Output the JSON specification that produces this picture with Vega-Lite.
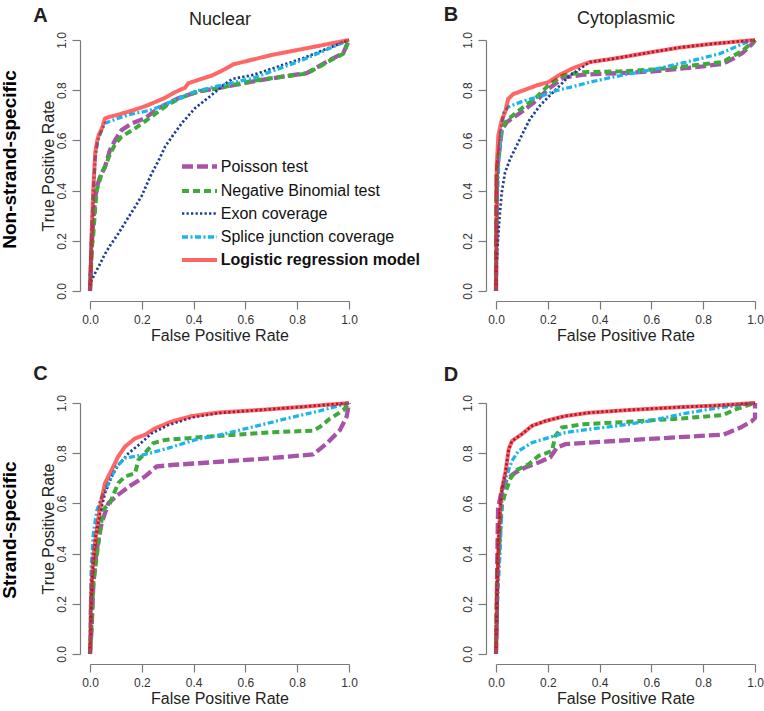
{
"$schema": "https://vega.github.io/schema/vega-lite/v6.json",
"padding": {"left": 0, "top": 4, "right": 0, "bottom": 0},
"config": {
  "font": "Liberation Sans",
  "view": {"stroke": null},
  "axis": {"grid": false, "domainColor": "#7a7a7a", "tickColor": "#7a7a7a", "domainWidth": 1.2, "tickWidth": 1.2, "tickSize": 8, "labelFontSize": 12, "labelColor": "#333333", "titleFontSize": 16, "titleFontWeight": "normal", "titleColor": "#231f20", "labelFlush": false}
},
"datasets": {
"A": [
{"method":"Poisson test","fpr":0,"tpr":0},{"method":"Poisson test","fpr":0.003,"tpr":0.08},{"method":"Poisson test","fpr":0.006,"tpr":0.175},{"method":"Poisson test","fpr":0.012,"tpr":0.27},{"method":"Poisson test","fpr":0.019,"tpr":0.361},{"method":"Poisson test","fpr":0.028,"tpr":0.42},{"method":"Poisson test","fpr":0.039,"tpr":0.455},{"method":"Poisson test","fpr":0.058,"tpr":0.495},{"method":"Poisson test","fpr":0.077,"tpr":0.561},{"method":"Poisson test","fpr":0.097,"tpr":0.601},{"method":"Poisson test","fpr":0.122,"tpr":0.641},{"method":"Poisson test","fpr":0.161,"tpr":0.668},{"method":"Poisson test","fpr":0.212,"tpr":0.688},{"method":"Poisson test","fpr":0.264,"tpr":0.728},{"method":"Poisson test","fpr":0.341,"tpr":0.768},{"method":"Poisson test","fpr":0.418,"tpr":0.795},{"method":"Poisson test","fpr":0.495,"tpr":0.808},{"method":"Poisson test","fpr":0.63,"tpr":0.835},{"method":"Poisson test","fpr":0.75,"tpr":0.855},{"method":"Poisson test","fpr":0.837,"tpr":0.868},{"method":"Poisson test","fpr":0.927,"tpr":0.921},{"method":"Poisson test","fpr":0.978,"tpr":0.948},{"method":"Poisson test","fpr":1,"tpr":1},
{"method":"Negative Binomial test","fpr":0,"tpr":0},{"method":"Negative Binomial test","fpr":0.004,"tpr":0.1},{"method":"Negative Binomial test","fpr":0.008,"tpr":0.18},{"method":"Negative Binomial test","fpr":0.013,"tpr":0.228},{"method":"Negative Binomial test","fpr":0.02,"tpr":0.33},{"method":"Negative Binomial test","fpr":0.026,"tpr":0.401},{"method":"Negative Binomial test","fpr":0.045,"tpr":0.468},{"method":"Negative Binomial test","fpr":0.06,"tpr":0.5},{"method":"Negative Binomial test","fpr":0.077,"tpr":0.545},{"method":"Negative Binomial test","fpr":0.097,"tpr":0.585},{"method":"Negative Binomial test","fpr":0.122,"tpr":0.615},{"method":"Negative Binomial test","fpr":0.174,"tpr":0.648},{"method":"Negative Binomial test","fpr":0.238,"tpr":0.695},{"method":"Negative Binomial test","fpr":0.3,"tpr":0.742},{"method":"Negative Binomial test","fpr":0.35,"tpr":0.77},{"method":"Negative Binomial test","fpr":0.418,"tpr":0.795},{"method":"Negative Binomial test","fpr":0.495,"tpr":0.808},{"method":"Negative Binomial test","fpr":0.63,"tpr":0.838},{"method":"Negative Binomial test","fpr":0.75,"tpr":0.855},{"method":"Negative Binomial test","fpr":0.837,"tpr":0.866},{"method":"Negative Binomial test","fpr":0.927,"tpr":0.918},{"method":"Negative Binomial test","fpr":0.978,"tpr":0.945},{"method":"Negative Binomial test","fpr":1,"tpr":1},
{"method":"Exon coverage","fpr":0,"tpr":0},{"method":"Exon coverage","fpr":0.005,"tpr":0.04},{"method":"Exon coverage","fpr":0.019,"tpr":0.07},{"method":"Exon coverage","fpr":0.035,"tpr":0.1},{"method":"Exon coverage","fpr":0.058,"tpr":0.148},{"method":"Exon coverage","fpr":0.08,"tpr":0.185},{"method":"Exon coverage","fpr":0.109,"tpr":0.228},{"method":"Exon coverage","fpr":0.14,"tpr":0.28},{"method":"Exon coverage","fpr":0.174,"tpr":0.335},{"method":"Exon coverage","fpr":0.2,"tpr":0.38},{"method":"Exon coverage","fpr":0.238,"tpr":0.468},{"method":"Exon coverage","fpr":0.265,"tpr":0.52},{"method":"Exon coverage","fpr":0.29,"tpr":0.575},{"method":"Exon coverage","fpr":0.32,"tpr":0.62},{"method":"Exon coverage","fpr":0.354,"tpr":0.668},{"method":"Exon coverage","fpr":0.405,"tpr":0.728},{"method":"Exon coverage","fpr":0.47,"tpr":0.781},{"method":"Exon coverage","fpr":0.515,"tpr":0.821},{"method":"Exon coverage","fpr":0.55,"tpr":0.845},{"method":"Exon coverage","fpr":0.63,"tpr":0.861},{"method":"Exon coverage","fpr":0.824,"tpr":0.928},{"method":"Exon coverage","fpr":1,"tpr":1},
{"method":"Splice junction coverage","fpr":0,"tpr":0},{"method":"Splice junction coverage","fpr":0.005,"tpr":0.2},{"method":"Splice junction coverage","fpr":0.013,"tpr":0.4},{"method":"Splice junction coverage","fpr":0.02,"tpr":0.53},{"method":"Splice junction coverage","fpr":0.03,"tpr":0.6},{"method":"Splice junction coverage","fpr":0.045,"tpr":0.64},{"method":"Splice junction coverage","fpr":0.058,"tpr":0.668},{"method":"Splice junction coverage","fpr":0.1,"tpr":0.685},{"method":"Splice junction coverage","fpr":0.15,"tpr":0.702},{"method":"Splice junction coverage","fpr":0.24,"tpr":0.722},{"method":"Splice junction coverage","fpr":0.315,"tpr":0.755},{"method":"Splice junction coverage","fpr":0.405,"tpr":0.795},{"method":"Splice junction coverage","fpr":0.5,"tpr":0.818},{"method":"Splice junction coverage","fpr":0.63,"tpr":0.848},{"method":"Splice junction coverage","fpr":0.82,"tpr":0.92},{"method":"Splice junction coverage","fpr":1,"tpr":1},
{"method":"Logistic regression model","fpr":0,"tpr":0},{"method":"Logistic regression model","fpr":0.003,"tpr":0.1},{"method":"Logistic regression model","fpr":0.006,"tpr":0.22},{"method":"Logistic regression model","fpr":0.013,"tpr":0.41},{"method":"Logistic regression model","fpr":0.02,"tpr":0.55},{"method":"Logistic regression model","fpr":0.028,"tpr":0.6},{"method":"Logistic regression model","fpr":0.035,"tpr":0.625},{"method":"Logistic regression model","fpr":0.045,"tpr":0.645},{"method":"Logistic regression model","fpr":0.058,"tpr":0.688},{"method":"Logistic regression model","fpr":0.08,"tpr":0.695},{"method":"Logistic regression model","fpr":0.11,"tpr":0.703},{"method":"Logistic regression model","fpr":0.16,"tpr":0.718},{"method":"Logistic regression model","fpr":0.21,"tpr":0.735},{"method":"Logistic regression model","fpr":0.25,"tpr":0.752},{"method":"Logistic regression model","fpr":0.29,"tpr":0.77},{"method":"Logistic regression model","fpr":0.33,"tpr":0.793},{"method":"Logistic regression model","fpr":0.367,"tpr":0.81},{"method":"Logistic regression model","fpr":0.38,"tpr":0.828},{"method":"Logistic regression model","fpr":0.43,"tpr":0.845},{"method":"Logistic regression model","fpr":0.47,"tpr":0.858},{"method":"Logistic regression model","fpr":0.51,"tpr":0.878},{"method":"Logistic regression model","fpr":0.553,"tpr":0.903},{"method":"Logistic regression model","fpr":0.7,"tpr":0.94},{"method":"Logistic regression model","fpr":0.85,"tpr":0.97},{"method":"Logistic regression model","fpr":1,"tpr":1}
],
"B": [
{"method":"Poisson test","fpr":0,"tpr":0},{"method":"Poisson test","fpr":0.001,"tpr":0.2},{"method":"Poisson test","fpr":0.002,"tpr":0.38},{"method":"Poisson test","fpr":0.003,"tpr":0.47},{"method":"Poisson test","fpr":0.013,"tpr":0.56},{"method":"Poisson test","fpr":0.022,"tpr":0.64},{"method":"Poisson test","fpr":0.041,"tpr":0.672},{"method":"Poisson test","fpr":0.08,"tpr":0.7},{"method":"Poisson test","fpr":0.105,"tpr":0.718},{"method":"Poisson test","fpr":0.157,"tpr":0.76},{"method":"Poisson test","fpr":0.202,"tpr":0.805},{"method":"Poisson test","fpr":0.26,"tpr":0.85},{"method":"Poisson test","fpr":0.337,"tpr":0.862},{"method":"Poisson test","fpr":0.478,"tpr":0.868},{"method":"Poisson test","fpr":0.606,"tpr":0.875},{"method":"Poisson test","fpr":0.799,"tpr":0.895},{"method":"Poisson test","fpr":0.876,"tpr":0.905},{"method":"Poisson test","fpr":0.914,"tpr":0.925},{"method":"Poisson test","fpr":0.953,"tpr":0.95},{"method":"Poisson test","fpr":0.99,"tpr":0.985},{"method":"Poisson test","fpr":1,"tpr":1},
{"method":"Negative Binomial test","fpr":0,"tpr":0},{"method":"Negative Binomial test","fpr":0.001,"tpr":0.2},{"method":"Negative Binomial test","fpr":0.002,"tpr":0.38},{"method":"Negative Binomial test","fpr":0.003,"tpr":0.472},{"method":"Negative Binomial test","fpr":0.013,"tpr":0.565},{"method":"Negative Binomial test","fpr":0.022,"tpr":0.645},{"method":"Negative Binomial test","fpr":0.041,"tpr":0.679},{"method":"Negative Binomial test","fpr":0.08,"tpr":0.712},{"method":"Negative Binomial test","fpr":0.105,"tpr":0.732},{"method":"Negative Binomial test","fpr":0.157,"tpr":0.772},{"method":"Negative Binomial test","fpr":0.202,"tpr":0.819},{"method":"Negative Binomial test","fpr":0.26,"tpr":0.859},{"method":"Negative Binomial test","fpr":0.337,"tpr":0.872},{"method":"Negative Binomial test","fpr":0.478,"tpr":0.875},{"method":"Negative Binomial test","fpr":0.606,"tpr":0.882},{"method":"Negative Binomial test","fpr":0.799,"tpr":0.903},{"method":"Negative Binomial test","fpr":0.876,"tpr":0.912},{"method":"Negative Binomial test","fpr":0.914,"tpr":0.935},{"method":"Negative Binomial test","fpr":0.953,"tpr":0.958},{"method":"Negative Binomial test","fpr":1,"tpr":1},
{"method":"Exon coverage","fpr":0,"tpr":0},{"method":"Exon coverage","fpr":0.002,"tpr":0.08},{"method":"Exon coverage","fpr":0.005,"tpr":0.165},{"method":"Exon coverage","fpr":0.013,"tpr":0.285},{"method":"Exon coverage","fpr":0.022,"tpr":0.392},{"method":"Exon coverage","fpr":0.035,"tpr":0.472},{"method":"Exon coverage","fpr":0.054,"tpr":0.525},{"method":"Exon coverage","fpr":0.08,"tpr":0.579},{"method":"Exon coverage","fpr":0.105,"tpr":0.632},{"method":"Exon coverage","fpr":0.131,"tpr":0.685},{"method":"Exon coverage","fpr":0.17,"tpr":0.739},{"method":"Exon coverage","fpr":0.208,"tpr":0.779},{"method":"Exon coverage","fpr":0.247,"tpr":0.819},{"method":"Exon coverage","fpr":0.285,"tpr":0.859},{"method":"Exon coverage","fpr":0.324,"tpr":0.885},{"method":"Exon coverage","fpr":0.362,"tpr":0.912},{"method":"Exon coverage","fpr":0.45,"tpr":0.925},{"method":"Exon coverage","fpr":0.58,"tpr":0.948},{"method":"Exon coverage","fpr":0.709,"tpr":0.97},{"method":"Exon coverage","fpr":0.837,"tpr":0.985},{"method":"Exon coverage","fpr":1,"tpr":1},
{"method":"Splice junction coverage","fpr":0,"tpr":0},{"method":"Splice junction coverage","fpr":0.002,"tpr":0.2},{"method":"Splice junction coverage","fpr":0.005,"tpr":0.36},{"method":"Splice junction coverage","fpr":0.01,"tpr":0.5},{"method":"Splice junction coverage","fpr":0.015,"tpr":0.587},{"method":"Splice junction coverage","fpr":0.022,"tpr":0.66},{"method":"Splice junction coverage","fpr":0.03,"tpr":0.71},{"method":"Splice junction coverage","fpr":0.047,"tpr":0.733},{"method":"Splice junction coverage","fpr":0.105,"tpr":0.757},{"method":"Splice junction coverage","fpr":0.182,"tpr":0.779},{"method":"Splice junction coverage","fpr":0.234,"tpr":0.799},{"method":"Splice junction coverage","fpr":0.3,"tpr":0.815},{"method":"Splice junction coverage","fpr":0.362,"tpr":0.832},{"method":"Splice junction coverage","fpr":0.45,"tpr":0.852},{"method":"Splice junction coverage","fpr":0.52,"tpr":0.866},{"method":"Splice junction coverage","fpr":0.606,"tpr":0.882},{"method":"Splice junction coverage","fpr":0.735,"tpr":0.912},{"method":"Splice junction coverage","fpr":0.863,"tpr":0.945},{"method":"Splice junction coverage","fpr":0.966,"tpr":0.99},{"method":"Splice junction coverage","fpr":1,"tpr":1},
{"method":"Logistic regression model","fpr":0,"tpr":0},{"method":"Logistic regression model","fpr":0.002,"tpr":0.3},{"method":"Logistic regression model","fpr":0.003,"tpr":0.5},{"method":"Logistic regression model","fpr":0.009,"tpr":0.62},{"method":"Logistic regression model","fpr":0.022,"tpr":0.68},{"method":"Logistic regression model","fpr":0.035,"tpr":0.712},{"method":"Logistic regression model","fpr":0.047,"tpr":0.765},{"method":"Logistic regression model","fpr":0.067,"tpr":0.785},{"method":"Logistic regression model","fpr":0.105,"tpr":0.799},{"method":"Logistic regression model","fpr":0.157,"tpr":0.819},{"method":"Logistic regression model","fpr":0.202,"tpr":0.832},{"method":"Logistic regression model","fpr":0.247,"tpr":0.862},{"method":"Logistic regression model","fpr":0.298,"tpr":0.888},{"method":"Logistic regression model","fpr":0.362,"tpr":0.912},{"method":"Logistic regression model","fpr":0.45,"tpr":0.925},{"method":"Logistic regression model","fpr":0.58,"tpr":0.948},{"method":"Logistic regression model","fpr":0.709,"tpr":0.97},{"method":"Logistic regression model","fpr":0.837,"tpr":0.985},{"method":"Logistic regression model","fpr":1,"tpr":1}
],
"C": [
{"method":"Poisson test","fpr":0,"tpr":0},{"method":"Poisson test","fpr":0.003,"tpr":0.05},{"method":"Poisson test","fpr":0.006,"tpr":0.098},{"method":"Poisson test","fpr":0.013,"tpr":0.283},{"method":"Poisson test","fpr":0.026,"tpr":0.415},{"method":"Poisson test","fpr":0.045,"tpr":0.522},{"method":"Poisson test","fpr":0.071,"tpr":0.601},{"method":"Poisson test","fpr":0.109,"tpr":0.635},{"method":"Poisson test","fpr":0.161,"tpr":0.674},{"method":"Poisson test","fpr":0.212,"tpr":0.707},{"method":"Poisson test","fpr":0.257,"tpr":0.747},{"method":"Poisson test","fpr":0.315,"tpr":0.753},{"method":"Poisson test","fpr":0.418,"tpr":0.76},{"method":"Poisson test","fpr":0.515,"tpr":0.767},{"method":"Poisson test","fpr":0.695,"tpr":0.78},{"method":"Poisson test","fpr":0.862,"tpr":0.795},{"method":"Poisson test","fpr":0.914,"tpr":0.839},{"method":"Poisson test","fpr":0.965,"tpr":0.892},{"method":"Poisson test","fpr":0.991,"tpr":0.946},{"method":"Poisson test","fpr":1,"tpr":1},
{"method":"Negative Binomial test","fpr":0,"tpr":0},{"method":"Negative Binomial test","fpr":0.003,"tpr":0.05},{"method":"Negative Binomial test","fpr":0.006,"tpr":0.124},{"method":"Negative Binomial test","fpr":0.013,"tpr":0.283},{"method":"Negative Binomial test","fpr":0.026,"tpr":0.389},{"method":"Negative Binomial test","fpr":0.039,"tpr":0.495},{"method":"Negative Binomial test","fpr":0.051,"tpr":0.575},{"method":"Negative Binomial test","fpr":0.077,"tpr":0.601},{"method":"Negative Binomial test","fpr":0.109,"tpr":0.681},{"method":"Negative Binomial test","fpr":0.135,"tpr":0.707},{"method":"Negative Binomial test","fpr":0.174,"tpr":0.72},{"method":"Negative Binomial test","fpr":0.187,"tpr":0.773},{"method":"Negative Binomial test","fpr":0.212,"tpr":0.8},{"method":"Negative Binomial test","fpr":0.245,"tpr":0.84},{"method":"Negative Binomial test","fpr":0.29,"tpr":0.853},{"method":"Negative Binomial test","fpr":0.405,"tpr":0.862},{"method":"Negative Binomial test","fpr":0.541,"tpr":0.872},{"method":"Negative Binomial test","fpr":0.695,"tpr":0.883},{"method":"Negative Binomial test","fpr":0.862,"tpr":0.89},{"method":"Negative Binomial test","fpr":0.888,"tpr":0.905},{"method":"Negative Binomial test","fpr":0.927,"tpr":0.938},{"method":"Negative Binomial test","fpr":0.978,"tpr":0.971},{"method":"Negative Binomial test","fpr":1,"tpr":1},
{"method":"Exon coverage","fpr":0,"tpr":0},{"method":"Exon coverage","fpr":0.002,"tpr":0.12},{"method":"Exon coverage","fpr":0.006,"tpr":0.283},{"method":"Exon coverage","fpr":0.019,"tpr":0.455},{"method":"Exon coverage","fpr":0.039,"tpr":0.561},{"method":"Exon coverage","fpr":0.058,"tpr":0.641},{"method":"Exon coverage","fpr":0.084,"tpr":0.707},{"method":"Exon coverage","fpr":0.109,"tpr":0.753},{"method":"Exon coverage","fpr":0.148,"tpr":0.799},{"method":"Exon coverage","fpr":0.187,"tpr":0.832},{"method":"Exon coverage","fpr":0.238,"tpr":0.879},{"method":"Exon coverage","fpr":0.302,"tpr":0.912},{"method":"Exon coverage","fpr":0.393,"tpr":0.942},{"method":"Exon coverage","fpr":0.495,"tpr":0.96},{"method":"Exon coverage","fpr":0.681,"tpr":0.974},{"method":"Exon coverage","fpr":0.81,"tpr":0.984},{"method":"Exon coverage","fpr":1,"tpr":1},
{"method":"Splice junction coverage","fpr":0,"tpr":0},{"method":"Splice junction coverage","fpr":0.002,"tpr":0.2},{"method":"Splice junction coverage","fpr":0.005,"tpr":0.35},{"method":"Splice junction coverage","fpr":0.013,"tpr":0.48},{"method":"Splice junction coverage","fpr":0.026,"tpr":0.57},{"method":"Splice junction coverage","fpr":0.045,"tpr":0.625},{"method":"Splice junction coverage","fpr":0.071,"tpr":0.681},{"method":"Splice junction coverage","fpr":0.103,"tpr":0.747},{"method":"Splice junction coverage","fpr":0.135,"tpr":0.78},{"method":"Splice junction coverage","fpr":0.212,"tpr":0.795},{"method":"Splice junction coverage","fpr":0.302,"tpr":0.82},{"method":"Splice junction coverage","fpr":0.405,"tpr":0.853},{"method":"Splice junction coverage","fpr":0.502,"tpr":0.873},{"method":"Splice junction coverage","fpr":0.63,"tpr":0.905},{"method":"Splice junction coverage","fpr":0.759,"tpr":0.938},{"method":"Splice junction coverage","fpr":0.888,"tpr":0.969},{"method":"Splice junction coverage","fpr":1,"tpr":1},
{"method":"Logistic regression model","fpr":0,"tpr":0},{"method":"Logistic regression model","fpr":0.002,"tpr":0.1},{"method":"Logistic regression model","fpr":0.004,"tpr":0.23},{"method":"Logistic regression model","fpr":0.013,"tpr":0.389},{"method":"Logistic regression model","fpr":0.026,"tpr":0.495},{"method":"Logistic regression model","fpr":0.039,"tpr":0.588},{"method":"Logistic regression model","fpr":0.058,"tpr":0.681},{"method":"Logistic regression model","fpr":0.084,"tpr":0.734},{"method":"Logistic regression model","fpr":0.109,"tpr":0.787},{"method":"Logistic regression model","fpr":0.135,"tpr":0.826},{"method":"Logistic regression model","fpr":0.174,"tpr":0.859},{"method":"Logistic regression model","fpr":0.212,"tpr":0.873},{"method":"Logistic regression model","fpr":0.251,"tpr":0.899},{"method":"Logistic regression model","fpr":0.315,"tpr":0.926},{"method":"Logistic regression model","fpr":0.393,"tpr":0.948},{"method":"Logistic regression model","fpr":0.495,"tpr":0.962},{"method":"Logistic regression model","fpr":0.681,"tpr":0.974},{"method":"Logistic regression model","fpr":0.81,"tpr":0.984},{"method":"Logistic regression model","fpr":1,"tpr":1}
],
"D": [
{"method":"Poisson test","fpr":0,"tpr":0},{"method":"Poisson test","fpr":0.002,"tpr":0.1},{"method":"Poisson test","fpr":0.004,"tpr":0.3},{"method":"Poisson test","fpr":0.006,"tpr":0.45},{"method":"Poisson test","fpr":0.008,"tpr":0.58},{"method":"Poisson test","fpr":0.012,"tpr":0.6},{"method":"Poisson test","fpr":0.023,"tpr":0.657},{"method":"Poisson test","fpr":0.042,"tpr":0.697},{"method":"Poisson test","fpr":0.075,"tpr":0.723},{"method":"Poisson test","fpr":0.113,"tpr":0.743},{"method":"Poisson test","fpr":0.164,"tpr":0.763},{"method":"Poisson test","fpr":0.209,"tpr":0.783},{"method":"Poisson test","fpr":0.235,"tpr":0.822},{"method":"Poisson test","fpr":0.267,"tpr":0.836},{"method":"Poisson test","fpr":0.357,"tpr":0.842},{"method":"Poisson test","fpr":0.511,"tpr":0.852},{"method":"Poisson test","fpr":0.775,"tpr":0.868},{"method":"Poisson test","fpr":0.878,"tpr":0.874},{"method":"Poisson test","fpr":0.942,"tpr":0.901},{"method":"Poisson test","fpr":0.987,"tpr":0.927},{"method":"Poisson test","fpr":1,"tpr":0.94},{"method":"Poisson test","fpr":1,"tpr":1},
{"method":"Negative Binomial test","fpr":0,"tpr":0},{"method":"Negative Binomial test","fpr":0.001,"tpr":0.1},{"method":"Negative Binomial test","fpr":0.004,"tpr":0.286},{"method":"Negative Binomial test","fpr":0.01,"tpr":0.392},{"method":"Negative Binomial test","fpr":0.017,"tpr":0.498},{"method":"Negative Binomial test","fpr":0.023,"tpr":0.591},{"method":"Negative Binomial test","fpr":0.036,"tpr":0.644},{"method":"Negative Binomial test","fpr":0.055,"tpr":0.697},{"method":"Negative Binomial test","fpr":0.075,"tpr":0.73},{"method":"Negative Binomial test","fpr":0.126,"tpr":0.756},{"method":"Negative Binomial test","fpr":0.164,"tpr":0.789},{"method":"Negative Binomial test","fpr":0.216,"tpr":0.809},{"method":"Negative Binomial test","fpr":0.229,"tpr":0.869},{"method":"Negative Binomial test","fpr":0.254,"tpr":0.902},{"method":"Negative Binomial test","fpr":0.331,"tpr":0.915},{"method":"Negative Binomial test","fpr":0.511,"tpr":0.925},{"method":"Negative Binomial test","fpr":0.711,"tpr":0.938},{"method":"Negative Binomial test","fpr":0.878,"tpr":0.952},{"method":"Negative Binomial test","fpr":0.917,"tpr":0.972},{"method":"Negative Binomial test","fpr":0.968,"tpr":0.99},{"method":"Negative Binomial test","fpr":1,"tpr":1},
{"method":"Exon coverage","fpr":0,"tpr":0},{"method":"Exon coverage","fpr":0.002,"tpr":0.1},{"method":"Exon coverage","fpr":0.004,"tpr":0.233},{"method":"Exon coverage","fpr":0.01,"tpr":0.458},{"method":"Exon coverage","fpr":0.017,"tpr":0.591},{"method":"Exon coverage","fpr":0.023,"tpr":0.657},{"method":"Exon coverage","fpr":0.036,"tpr":0.723},{"method":"Exon coverage","fpr":0.042,"tpr":0.763},{"method":"Exon coverage","fpr":0.049,"tpr":0.816},{"method":"Exon coverage","fpr":0.062,"tpr":0.849},{"method":"Exon coverage","fpr":0.1,"tpr":0.876},{"method":"Exon coverage","fpr":0.139,"tpr":0.909},{"method":"Exon coverage","fpr":0.19,"tpr":0.928},{"method":"Exon coverage","fpr":0.267,"tpr":0.948},{"method":"Exon coverage","fpr":0.357,"tpr":0.961},{"method":"Exon coverage","fpr":0.511,"tpr":0.972},{"method":"Exon coverage","fpr":0.7,"tpr":0.983},{"method":"Exon coverage","fpr":0.85,"tpr":0.99},{"method":"Exon coverage","fpr":1,"tpr":1},
{"method":"Splice junction coverage","fpr":0,"tpr":0},{"method":"Splice junction coverage","fpr":0.003,"tpr":0.1},{"method":"Splice junction coverage","fpr":0.008,"tpr":0.26},{"method":"Splice junction coverage","fpr":0.017,"tpr":0.432},{"method":"Splice junction coverage","fpr":0.023,"tpr":0.631},{"method":"Splice junction coverage","fpr":0.036,"tpr":0.697},{"method":"Splice junction coverage","fpr":0.062,"tpr":0.77},{"method":"Splice junction coverage","fpr":0.087,"tpr":0.809},{"method":"Splice junction coverage","fpr":0.139,"tpr":0.842},{"method":"Splice junction coverage","fpr":0.203,"tpr":0.862},{"method":"Splice junction coverage","fpr":0.267,"tpr":0.882},{"method":"Splice junction coverage","fpr":0.357,"tpr":0.895},{"method":"Splice junction coverage","fpr":0.511,"tpr":0.915},{"method":"Splice junction coverage","fpr":0.6,"tpr":0.93},{"method":"Splice junction coverage","fpr":0.711,"tpr":0.955},{"method":"Splice junction coverage","fpr":0.84,"tpr":0.978},{"method":"Splice junction coverage","fpr":1,"tpr":1},
{"method":"Logistic regression model","fpr":0,"tpr":0},{"method":"Logistic regression model","fpr":0.002,"tpr":0.1},{"method":"Logistic regression model","fpr":0.004,"tpr":0.233},{"method":"Logistic regression model","fpr":0.01,"tpr":0.458},{"method":"Logistic regression model","fpr":0.017,"tpr":0.591},{"method":"Logistic regression model","fpr":0.023,"tpr":0.657},{"method":"Logistic regression model","fpr":0.036,"tpr":0.723},{"method":"Logistic regression model","fpr":0.042,"tpr":0.763},{"method":"Logistic regression model","fpr":0.049,"tpr":0.816},{"method":"Logistic regression model","fpr":0.062,"tpr":0.849},{"method":"Logistic regression model","fpr":0.1,"tpr":0.876},{"method":"Logistic regression model","fpr":0.139,"tpr":0.909},{"method":"Logistic regression model","fpr":0.19,"tpr":0.928},{"method":"Logistic regression model","fpr":0.267,"tpr":0.948},{"method":"Logistic regression model","fpr":0.357,"tpr":0.961},{"method":"Logistic regression model","fpr":0.511,"tpr":0.972},{"method":"Logistic regression model","fpr":0.7,"tpr":0.983},{"method":"Logistic regression model","fpr":0.85,"tpr":0.99},{"method":"Logistic regression model","fpr":1,"tpr":1}
]
},
"spacing": 20,
"resolve": {"scale": {"color": "independent", "strokeDash": "independent", "strokeWidth": "independent", "opacity": "independent"}, "legend": {"color": "independent", "strokeDash": "independent", "strokeWidth": "independent", "opacity": "independent"}},
"vconcat": [
{
 "title": {"text": "Non-strand-specific", "orient": "left", "anchor": "middle", "fontSize": 19, "fontWeight": "bold", "color": "#000000", "baseline": "alphabetic", "offset": -2, "dx": 14},
 "bounds": "flush", "spacing": 147,
 "resolve": {"scale": {"color": "independent", "strokeDash": "independent", "strokeWidth": "independent", "opacity": "independent"}, "legend": {"color": "independent", "strokeDash": "independent", "strokeWidth": "independent", "opacity": "independent"}},
 "hconcat": [
  {
   "width": 259, "height": 251,
   "data": {"name": "A"},
   "resolve": {"axis": {"x": "independent", "y": "independent"}},
   "layer": [
    {
     "transform": [{"filter": "datum.method !== 'Logistic regression model'"}],
     "mark": {"type": "line", "strokeJoin": "round"},
     "encoding": {
      "x": {"field": "fpr", "type": "quantitative", "scale": {"domain": [0, 1], "nice": false, "zero": false}, "axis": {"title": "False Positive Rate", "values": [0, 0.2, 0.4, 0.6, 0.8, 1], "format": ".1f", "offset": 10, "labelPadding": 5, "titlePadding": 2}},
      "y": {"field": "tpr", "type": "quantitative", "scale": {"domain": [0, 1], "nice": false, "zero": false}, "axis": {"title": "True Positive Rate", "values": [0, 0.2, 0.4, 0.6, 0.8, 1], "format": ".1f", "offset": 10, "labelAngle": -90, "labelAlign": "center", "labelBaseline": "alphabetic", "labelPadding": 7, "titlePadding": -1}},
      "color": {"field": "method", "type": "nominal", "scale": {"domain": ["Poisson test", "Negative Binomial test", "Exon coverage", "Splice junction coverage", "Logistic regression model"], "range": ["#a852a8", "#3daa3a", "#1f3f96", "#1cb4ec", "#ff0000"]},
       "legend": {"title": null, "orient": "none", "legendX": 97, "legendY": 114, "direction": "vertical", "symbolType": "M-1.75,0L1.75,0", "symbolSize": 400, "symbolFillColor": "transparent", "labelFontSize": 16, "labelColor": "#111111", "labelLimit": 400, "labelOffset": 8.75, "rowPadding": 3, "padding": 0, "encode": {"labels": {"update": {"fontWeight": {"signal": "datum.value === 'Logistic regression model' ? 'bold' : 'normal'"}}}}}},
      "strokeDash": {"field": "method", "type": "nominal", "scale": {"domain": ["Poisson test", "Negative Binomial test", "Exon coverage", "Splice junction coverage", "Logistic regression model"], "range": [[11, 4], [7, 4], [2.3, 2.2], [6, 2.5, 2, 2.5], [1, 0]]}},
      "strokeWidth": {"field": "method", "type": "ordinal", "scale": {"type": "ordinal", "domain": ["Poisson test", "Negative Binomial test", "Exon coverage", "Splice junction coverage", "Logistic regression model"], "range": [4.3, 4, 2.7, 3.3, 4]}},
      "opacity": {"field": "method", "type": "ordinal", "scale": {"type": "ordinal", "domain": ["Poisson test", "Negative Binomial test", "Exon coverage", "Splice junction coverage", "Logistic regression model"], "range": [1, 1, 1, 1, 0.6]}},
      "order": [{"field": "fpr", "type": "quantitative"}, {"field": "tpr", "type": "quantitative"}]
     }
    },
    {
     "transform": [{"filter": "datum.method === 'Logistic regression model'"}],
     "mark": {"type": "line", "strokeJoin": "round"},
     "encoding": {
      "x": {"field": "fpr", "type": "quantitative", "scale": {"domain": [0, 1], "nice": false, "zero": false}, "axis": {"orient": "top", "title": "Nuclear", "labels": false, "ticks": false, "domain": false, "grid": false, "titleFontSize": 18, "titleX": 129.5, "titleY": -16, "titleAlign": "center", "titleBaseline": "alphabetic"}},
      "y": {"field": "tpr", "type": "quantitative", "scale": {"domain": [0, 1], "nice": false, "zero": false}, "axis": {"orient": "right", "title": "A", "labels": false, "ticks": false, "domain": false, "grid": false, "titleAngle": 0, "titleFontSize": 20, "titleFontWeight": "bold", "titleX": -309, "titleY": -19, "titleAlign": "center", "titleBaseline": "alphabetic"}},
      "color": {"field": "method", "type": "nominal", "scale": {"domain": ["Poisson test", "Negative Binomial test", "Exon coverage", "Splice junction coverage", "Logistic regression model"], "range": ["#a852a8", "#3daa3a", "#1f3f96", "#1cb4ec", "#ff0000"]}},
      "strokeDash": {"field": "method", "type": "nominal", "scale": {"domain": ["Poisson test", "Negative Binomial test", "Exon coverage", "Splice junction coverage", "Logistic regression model"], "range": [[11, 4], [7, 4], [2.3, 2.2], [6, 2.5, 2, 2.5], [1, 0]]}},
      "strokeWidth": {"field": "method", "type": "ordinal", "scale": {"type": "ordinal", "domain": ["Poisson test", "Negative Binomial test", "Exon coverage", "Splice junction coverage", "Logistic regression model"], "range": [4.3, 4, 2.7, 3.3, 4]}},
      "opacity": {"field": "method", "type": "ordinal", "scale": {"type": "ordinal", "domain": ["Poisson test", "Negative Binomial test", "Exon coverage", "Splice junction coverage", "Logistic regression model"], "range": [1, 1, 1, 1, 0.6]}},
      "order": [{"field": "fpr", "type": "quantitative"}, {"field": "tpr", "type": "quantitative"}]
     }
    }
   ]
  },
  {
   "width": 259, "height": 251,
   "data": {"name": "B"},
   "resolve": {"axis": {"x": "independent", "y": "independent"}},
   "layer": [
    {
     "transform": [{"filter": "datum.method !== 'Logistic regression model'"}],
     "mark": {"type": "line", "strokeJoin": "round"},
     "encoding": {
      "x": {"field": "fpr", "type": "quantitative", "scale": {"domain": [0, 1], "nice": false, "zero": false}, "axis": {"title": "False Positive Rate", "values": [0, 0.2, 0.4, 0.6, 0.8, 1], "format": ".1f", "offset": 10, "labelPadding": 5, "titlePadding": 2}},
      "y": {"field": "tpr", "type": "quantitative", "scale": {"domain": [0, 1], "nice": false, "zero": false}, "axis": {"title": null, "values": [0, 0.2, 0.4, 0.6, 0.8, 1], "format": ".1f", "offset": 10, "labelAngle": -90, "labelAlign": "center", "labelBaseline": "alphabetic", "labelPadding": 7}},
      "color": {"field": "method", "type": "nominal", "scale": {"domain": ["Poisson test", "Negative Binomial test", "Exon coverage", "Splice junction coverage", "Logistic regression model"], "range": ["#a852a8", "#3daa3a", "#1f3f96", "#1cb4ec", "#ff0000"]}, "legend": null},
      "strokeDash": {"field": "method", "type": "nominal", "scale": {"domain": ["Poisson test", "Negative Binomial test", "Exon coverage", "Splice junction coverage", "Logistic regression model"], "range": [[11, 4], [7, 4], [2.3, 2.2], [6, 2.5, 2, 2.5], [1, 0]]}, "legend": null},
      "strokeWidth": {"field": "method", "type": "ordinal", "scale": {"type": "ordinal", "domain": ["Poisson test", "Negative Binomial test", "Exon coverage", "Splice junction coverage", "Logistic regression model"], "range": [4.3, 4, 2.7, 3.3, 4]}, "legend": null},
      "opacity": {"field": "method", "type": "ordinal", "scale": {"type": "ordinal", "domain": ["Poisson test", "Negative Binomial test", "Exon coverage", "Splice junction coverage", "Logistic regression model"], "range": [1, 1, 1, 1, 0.6]}, "legend": null},
      "order": [{"field": "fpr", "type": "quantitative"}, {"field": "tpr", "type": "quantitative"}]
     }
    },
    {
     "transform": [{"filter": "datum.method === 'Logistic regression model'"}],
     "mark": {"type": "line", "strokeJoin": "round"},
     "encoding": {
      "x": {"field": "fpr", "type": "quantitative", "scale": {"domain": [0, 1], "nice": false, "zero": false}, "axis": {"orient": "top", "title": "Cytoplasmic", "labels": false, "ticks": false, "domain": false, "grid": false, "titleFontSize": 18, "titleX": 129.5, "titleY": -17, "titleAlign": "center", "titleBaseline": "alphabetic"}},
      "y": {"field": "tpr", "type": "quantitative", "scale": {"domain": [0, 1], "nice": false, "zero": false}, "axis": {"orient": "right", "title": "B", "labels": false, "ticks": false, "domain": false, "grid": false, "titleAngle": 0, "titleFontSize": 20, "titleFontWeight": "bold", "titleX": -304.5, "titleY": -20, "titleAlign": "center", "titleBaseline": "alphabetic"}},
      "color": {"field": "method", "type": "nominal", "scale": {"domain": ["Poisson test", "Negative Binomial test", "Exon coverage", "Splice junction coverage", "Logistic regression model"], "range": ["#a852a8", "#3daa3a", "#1f3f96", "#1cb4ec", "#ff0000"]}, "legend": null},
      "strokeDash": {"field": "method", "type": "nominal", "scale": {"domain": ["Poisson test", "Negative Binomial test", "Exon coverage", "Splice junction coverage", "Logistic regression model"], "range": [[11, 4], [7, 4], [2.3, 2.2], [6, 2.5, 2, 2.5], [1, 0]]}, "legend": null},
      "strokeWidth": {"field": "method", "type": "ordinal", "scale": {"type": "ordinal", "domain": ["Poisson test", "Negative Binomial test", "Exon coverage", "Splice junction coverage", "Logistic regression model"], "range": [4.3, 4, 2.7, 3.3, 4]}, "legend": null},
      "opacity": {"field": "method", "type": "ordinal", "scale": {"type": "ordinal", "domain": ["Poisson test", "Negative Binomial test", "Exon coverage", "Splice junction coverage", "Logistic regression model"], "range": [1, 1, 1, 1, 0.6]}, "legend": null},
      "order": [{"field": "fpr", "type": "quantitative"}, {"field": "tpr", "type": "quantitative"}]
     }
    }
   ]
  }
 ]
},
{
 "title": {"text": "Strand-specific", "orient": "left", "anchor": "middle", "fontSize": 19, "fontWeight": "bold", "color": "#000000", "baseline": "alphabetic", "offset": -2, "dx": 4.5},
 "bounds": "flush", "spacing": 147,
 "resolve": {"scale": {"color": "independent", "strokeDash": "independent", "strokeWidth": "independent", "opacity": "independent"}, "legend": {"color": "independent", "strokeDash": "independent", "strokeWidth": "independent", "opacity": "independent"}},
 "hconcat": [
  {
   "width": 259, "height": 251,
   "data": {"name": "C"},
   "resolve": {"axis": {"x": "independent", "y": "independent"}},
   "layer": [
    {
     "transform": [{"filter": "datum.method !== 'Logistic regression model'"}],
     "mark": {"type": "line", "strokeJoin": "round"},
     "encoding": {
      "x": {"field": "fpr", "type": "quantitative", "scale": {"domain": [0, 1], "nice": false, "zero": false}, "axis": {"title": "False Positive Rate", "values": [0, 0.2, 0.4, 0.6, 0.8, 1], "format": ".1f", "offset": 10, "labelPadding": 5, "titlePadding": 2}},
      "y": {"field": "tpr", "type": "quantitative", "scale": {"domain": [0, 1], "nice": false, "zero": false}, "axis": {"title": "True Positive Rate", "values": [0, 0.2, 0.4, 0.6, 0.8, 1], "format": ".1f", "offset": 10, "labelAngle": -90, "labelAlign": "center", "labelBaseline": "alphabetic", "labelPadding": 7, "titlePadding": -1}},
      "color": {"field": "method", "type": "nominal", "scale": {"domain": ["Poisson test", "Negative Binomial test", "Exon coverage", "Splice junction coverage", "Logistic regression model"], "range": ["#a852a8", "#3daa3a", "#1f3f96", "#1cb4ec", "#ff0000"]}, "legend": null},
      "strokeDash": {"field": "method", "type": "nominal", "scale": {"domain": ["Poisson test", "Negative Binomial test", "Exon coverage", "Splice junction coverage", "Logistic regression model"], "range": [[11, 4], [7, 4], [2.3, 2.2], [6, 2.5, 2, 2.5], [1, 0]]}, "legend": null},
      "strokeWidth": {"field": "method", "type": "ordinal", "scale": {"type": "ordinal", "domain": ["Poisson test", "Negative Binomial test", "Exon coverage", "Splice junction coverage", "Logistic regression model"], "range": [4.3, 4, 2.7, 3.3, 4]}, "legend": null},
      "opacity": {"field": "method", "type": "ordinal", "scale": {"type": "ordinal", "domain": ["Poisson test", "Negative Binomial test", "Exon coverage", "Splice junction coverage", "Logistic regression model"], "range": [1, 1, 1, 1, 0.6]}, "legend": null},
      "order": [{"field": "fpr", "type": "quantitative"}, {"field": "tpr", "type": "quantitative"}]
     }
    },
    {
     "transform": [{"filter": "datum.method === 'Logistic regression model'"}],
     "mark": {"type": "line", "strokeJoin": "round"},
     "encoding": {
      "x": {"field": "fpr", "type": "quantitative", "scale": {"domain": [0, 1], "nice": false, "zero": false}, "axis": null},
      "y": {"field": "tpr", "type": "quantitative", "scale": {"domain": [0, 1], "nice": false, "zero": false}, "axis": {"orient": "right", "title": "C", "labels": false, "ticks": false, "domain": false, "grid": false, "titleAngle": 0, "titleFontSize": 20, "titleFontWeight": "bold", "titleX": -309, "titleY": -24, "titleAlign": "center", "titleBaseline": "alphabetic"}},
      "color": {"field": "method", "type": "nominal", "scale": {"domain": ["Poisson test", "Negative Binomial test", "Exon coverage", "Splice junction coverage", "Logistic regression model"], "range": ["#a852a8", "#3daa3a", "#1f3f96", "#1cb4ec", "#ff0000"]}, "legend": null},
      "strokeDash": {"field": "method", "type": "nominal", "scale": {"domain": ["Poisson test", "Negative Binomial test", "Exon coverage", "Splice junction coverage", "Logistic regression model"], "range": [[11, 4], [7, 4], [2.3, 2.2], [6, 2.5, 2, 2.5], [1, 0]]}, "legend": null},
      "strokeWidth": {"field": "method", "type": "ordinal", "scale": {"type": "ordinal", "domain": ["Poisson test", "Negative Binomial test", "Exon coverage", "Splice junction coverage", "Logistic regression model"], "range": [4.3, 4, 2.7, 3.3, 4]}, "legend": null},
      "opacity": {"field": "method", "type": "ordinal", "scale": {"type": "ordinal", "domain": ["Poisson test", "Negative Binomial test", "Exon coverage", "Splice junction coverage", "Logistic regression model"], "range": [1, 1, 1, 1, 0.6]}, "legend": null},
      "order": [{"field": "fpr", "type": "quantitative"}, {"field": "tpr", "type": "quantitative"}]
     }
    }
   ]
  },
  {
   "width": 259, "height": 251,
   "data": {"name": "D"},
   "resolve": {"axis": {"x": "independent", "y": "independent"}},
   "layer": [
    {
     "transform": [{"filter": "datum.method !== 'Logistic regression model'"}],
     "mark": {"type": "line", "strokeJoin": "round"},
     "encoding": {
      "x": {"field": "fpr", "type": "quantitative", "scale": {"domain": [0, 1], "nice": false, "zero": false}, "axis": {"title": "False Positive Rate", "values": [0, 0.2, 0.4, 0.6, 0.8, 1], "format": ".1f", "offset": 10, "labelPadding": 5, "titlePadding": 2}},
      "y": {"field": "tpr", "type": "quantitative", "scale": {"domain": [0, 1], "nice": false, "zero": false}, "axis": {"title": null, "values": [0, 0.2, 0.4, 0.6, 0.8, 1], "format": ".1f", "offset": 10, "labelAngle": -90, "labelAlign": "center", "labelBaseline": "alphabetic", "labelPadding": 7}},
      "color": {"field": "method", "type": "nominal", "scale": {"domain": ["Poisson test", "Negative Binomial test", "Exon coverage", "Splice junction coverage", "Logistic regression model"], "range": ["#a852a8", "#3daa3a", "#1f3f96", "#1cb4ec", "#ff0000"]}, "legend": null},
      "strokeDash": {"field": "method", "type": "nominal", "scale": {"domain": ["Poisson test", "Negative Binomial test", "Exon coverage", "Splice junction coverage", "Logistic regression model"], "range": [[11, 4], [7, 4], [2.3, 2.2], [6, 2.5, 2, 2.5], [1, 0]]}, "legend": null},
      "strokeWidth": {"field": "method", "type": "ordinal", "scale": {"type": "ordinal", "domain": ["Poisson test", "Negative Binomial test", "Exon coverage", "Splice junction coverage", "Logistic regression model"], "range": [4.3, 4, 2.7, 3.3, 4]}, "legend": null},
      "opacity": {"field": "method", "type": "ordinal", "scale": {"type": "ordinal", "domain": ["Poisson test", "Negative Binomial test", "Exon coverage", "Splice junction coverage", "Logistic regression model"], "range": [1, 1, 1, 1, 0.6]}, "legend": null},
      "order": [{"field": "fpr", "type": "quantitative"}, {"field": "tpr", "type": "quantitative"}]
     }
    },
    {
     "transform": [{"filter": "datum.method === 'Logistic regression model'"}],
     "mark": {"type": "line", "strokeJoin": "round"},
     "encoding": {
      "x": {"field": "fpr", "type": "quantitative", "scale": {"domain": [0, 1], "nice": false, "zero": false}, "axis": null},
      "y": {"field": "tpr", "type": "quantitative", "scale": {"domain": [0, 1], "nice": false, "zero": false}, "axis": {"orient": "right", "title": "D", "labels": false, "ticks": false, "domain": false, "grid": false, "titleAngle": 0, "titleFontSize": 20, "titleFontWeight": "bold", "titleX": -304.5, "titleY": -23, "titleAlign": "center", "titleBaseline": "alphabetic"}},
      "color": {"field": "method", "type": "nominal", "scale": {"domain": ["Poisson test", "Negative Binomial test", "Exon coverage", "Splice junction coverage", "Logistic regression model"], "range": ["#a852a8", "#3daa3a", "#1f3f96", "#1cb4ec", "#ff0000"]}, "legend": null},
      "strokeDash": {"field": "method", "type": "nominal", "scale": {"domain": ["Poisson test", "Negative Binomial test", "Exon coverage", "Splice junction coverage", "Logistic regression model"], "range": [[11, 4], [7, 4], [2.3, 2.2], [6, 2.5, 2, 2.5], [1, 0]]}, "legend": null},
      "strokeWidth": {"field": "method", "type": "ordinal", "scale": {"type": "ordinal", "domain": ["Poisson test", "Negative Binomial test", "Exon coverage", "Splice junction coverage", "Logistic regression model"], "range": [4.3, 4, 2.7, 3.3, 4]}, "legend": null},
      "opacity": {"field": "method", "type": "ordinal", "scale": {"type": "ordinal", "domain": ["Poisson test", "Negative Binomial test", "Exon coverage", "Splice junction coverage", "Logistic regression model"], "range": [1, 1, 1, 1, 0.6]}, "legend": null},
      "order": [{"field": "fpr", "type": "quantitative"}, {"field": "tpr", "type": "quantitative"}]
     }
    }
   ]
  }
 ]
}
]
}
